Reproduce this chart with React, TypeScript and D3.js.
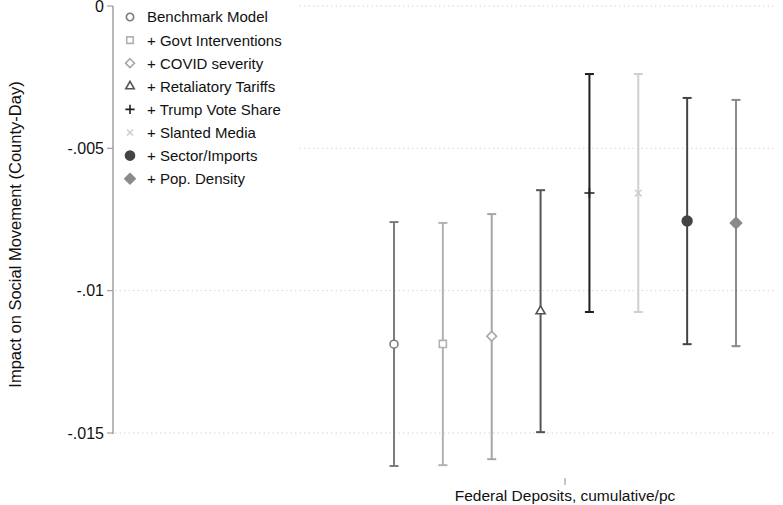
import * as d3 from "d3"

// series (models) and estimates
const models = [
  "Benchmark Model",
  "+ Govt Interventions",
  "+ COVID severity",
  "+ Retaliatory Tariffs",
  "+ Trump Vote Share",
  "+ Slanted Media",
  "+ Sector/Imports",
  "+ Pop. Density",
]
const estimate = [-0.01188, -0.01187, -0.0116, -0.01072, -0.00657, -0.00657, -0.00755, -0.00762]
const ciLow = [-0.01616, -0.01613, -0.01592, -0.01497, -0.01075, -0.01075, -0.01188, -0.01195]
const ciHigh = [-0.00759, -0.00762, -0.00731, -0.00647, -0.00239, -0.00239, -0.00323, -0.0033]
const yTicks = [0, -0.005, -0.01, -0.015]
const yTickLabels = ["0", "-.005", "-.01", "-.015"]
const xLabel = "Federal Deposits, cumulative/pc"
const yLabel = "Impact on Social Movement (County-Day)"

// look of each model
const colors = ["#7c7c7c", "#b2b2b2", "#a6a6a6", "#555555", "#1e1e1e", "#cfcfcf", "#444444", "#8a8a8a"]
const symbols = [
  d3.symbolCircle, d3.symbolSquare, d3.symbolDiamond2, d3.symbolTriangle2,
  d3.symbolPlus, d3.symbolTimes, d3.symbolCircle, d3.symbolDiamond2,
]
const filled = [false, false, false, false, false, false, true, true]
const sizes = [50, 50, 60, 60, 35, 30, 75, 80]

const W = 783
const H = 505
const font = "'Liberation Sans', Arial, Helvetica, sans-serif"

export default function App() {
  const plot = { left: 113, right: 776, top: 6, bottom: 433 }

  const x = d3.scalePoint<string>()
    .domain(models)
    .range([394, 736])

  const y = d3.scaleLinear()
    .domain([0, -0.015])
    .range([plot.top, plot.bottom])

  const xCenter = (x(models[0])! + x(models[models.length - 1])!) / 2

  const marker = (i: number, size: number) => d3.symbol().type(symbols[i]).size(size)()!

  const legendX = 130
  const legendY = 17
  const legendStep = 23.1

  return (
    <div style={{ position: "fixed", left: 0, top: 0 }}>
      <svg width={W} height={H} style={{ display: "block", background: "#fff" }} fontFamily={font}>
        {/* grid */}
        {yTicks.map((t) => (
          <line key={t} x1={plot.left + 2} x2={plot.right} y1={y(t)} y2={y(t)}
            stroke="#d6d6d6" strokeWidth={1} strokeDasharray="1.5,3" />
        ))}

        {/* y axis */}
        <line x1={plot.left} x2={plot.left} y1={plot.top} y2={plot.bottom + 1} stroke="#a0a0a0" strokeWidth={1.5} />
        {yTicks.map((t, i) => (
          <g key={t} transform={`translate(0,${y(t)})`}>
            <line x1={plot.left - 6} x2={plot.left} stroke="#a0a0a0" strokeWidth={1.2} />
            <text x={plot.left - 9} dy="0.36em" textAnchor="end" fontSize={16} fill="#111">
              {yTickLabels[i]}
            </text>
          </g>
        ))}
        <text transform={`translate(21,${(plot.top + plot.bottom) / 2 + 15}) rotate(-90)`}
          textAnchor="middle" fontSize={16.5} fill="#111">{yLabel}</text>

        {/* x axis tick + title */}
        <line x1={xCenter} x2={xCenter} y1={478} y2={485} stroke="#a0a0a0" strokeWidth={1.2} />
        <text x={xCenter} y={501} textAnchor="middle" fontSize={15.5} fill="#111">{xLabel}</text>

        {/* legend box */}
        <rect x={plot.left + 1} y={0} width={183} height={196} fill="#fff" />
        {models.map((m, i) => (
          <g key={m} transform={`translate(${legendX},${legendY + i * legendStep})`}>
            <path d={marker(i, sizes[i] * 0.85)}
              fill={filled[i] ? colors[i] : "none"}
              stroke={colors[i]} strokeWidth={1.6} />
            <text x={17} dy="0.36em" fontSize={15} fill="#111">{m}</text>
          </g>
        ))}

        {/* error bars */}
        {models.map((m, i) => {
          const cx = x(m)!
          return (
            <g key={m} stroke={colors[i]}>
              <line x1={cx} x2={cx} y1={y(ciHigh[i])} y2={y(ciLow[i])} strokeWidth={2} />
              <line x1={cx - 4.5} x2={cx + 4.5} y1={y(ciHigh[i])} y2={y(ciHigh[i])} strokeWidth={2} />
              <line x1={cx - 4.5} x2={cx + 4.5} y1={y(ciLow[i])} y2={y(ciLow[i])} strokeWidth={2} />
              <path transform={`translate(${cx},${y(estimate[i])})`} d={marker(i, sizes[i])}
                fill={filled[i] ? colors[i] : "#fff"} strokeWidth={1.6} />
            </g>
          )
        })}
      </svg>
    </div>
  )
}
